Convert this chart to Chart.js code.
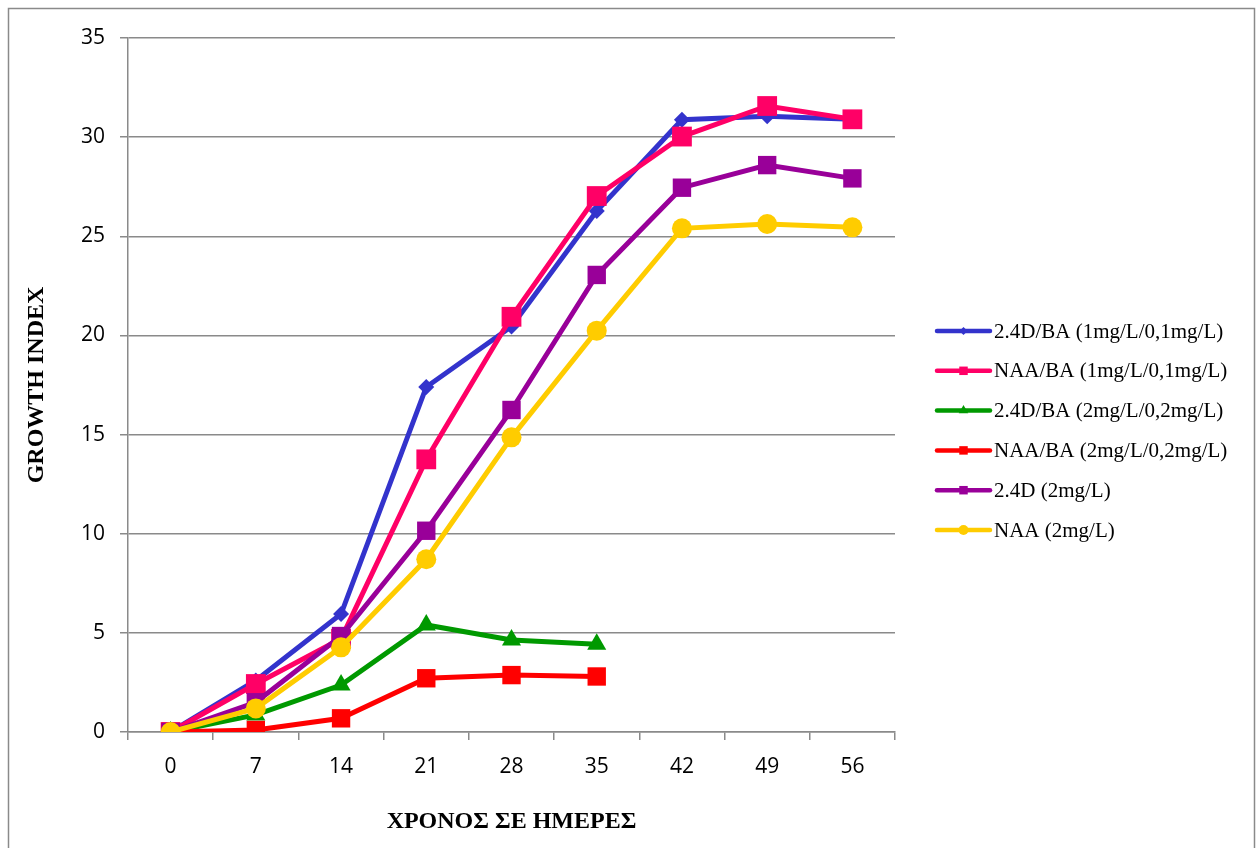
<!DOCTYPE html>
<html>
<head>
<meta charset="utf-8">
<script src="https://cdn.jsdelivr.net/npm/chart.js@4"></script>
<style>
  html, body { margin: 0; padding: 0; background: #fff; }
  #wrap { position: relative; width: 1258px; height: 848px; }
</style>
</head>
<body>
<div id="wrap"><canvas id="c" width="1258" height="848"></canvas></div>
<script>
// Days of culture
const days = ['0', '7', '14', '21', '28', '35', '42', '49', '56'];

// Growth index per treatment
const d24ba1 = [0, 2.6, 5.95, 17.4, 20.45, 26.27, 30.88, 31.05, 30.9];
const naaba1 = [0, 2.42, 4.7, 13.75, 20.94, 27.03, 30.03, 31.57, 30.9];
const d24ba2 = [0, 0.86, 2.37, 5.4, 4.64, 4.42, null, null, null];
const naaba2 = [0, 0.1, 0.69, 2.71, 2.87, 2.8, null, null, null];
const d24 = [0, 1.5, 4.84, 10.15, 16.24, 23.05, 27.45, 28.59, 27.92];
const naa = [0, 1.19, 4.27, 8.71, 14.86, 20.24, 25.4, 25.62, 25.45];

const seriesNames = [
  '2.4D/BA (1mg/L/0,1mg/L)',
  'NAA/BA (1mg/L/0,1mg/L)',
  '2.4D/BA (2mg/L/0,2mg/L)',
  'NAA/BA (2mg/L/0,2mg/L)',
  '2.4D (2mg/L)',
  'NAA (2mg/L)'
];

const yTicks = [0, 5, 10, 15, 20, 25, 30, 35];

const styles = [
  { color: '#3333CC', point: 'rectRot', radius: 8 },
  { color: '#FF0066', point: 'rect', radius: 14 },
  { color: '#009900', point: 'triangle', radius: 11 },
  { color: '#FF0000', point: 'rect', radius: 13 },
  { color: '#990099', point: 'rect', radius: 13 },
  { color: '#FFCC00', point: 'circle', radius: 10 }
];

const values = [d24ba1, naaba1, d24ba2, naaba2, d24, naa];

const datasets = values.map((v, i) => ({
  label: seriesNames[i],
  data: v,
  borderColor: styles[i].color,
  backgroundColor: styles[i].color,
  pointBackgroundColor: styles[i].color,
  pointBorderColor: styles[i].color,
  pointBorderWidth: 0,
  pointStyle: styles[i].point,
  pointRadius: styles[i].radius,
  borderWidth: 5,
  tension: 0,
  spanGaps: false,
  order: values.length - i
}));

const serif = '"Liberation Serif", "Times New Roman", serif';
const sans = '"Open Sans", sans-serif';

// Frame round the whole chart
const framePlugin = {
  id: 'frame',
  beforeDraw(chart) {
    const ctx = chart.ctx;
    ctx.save();
    ctx.fillStyle = '#fff';
    ctx.fillRect(0, 0, chart.width, chart.height);
    ctx.strokeStyle = '#8a8a8a';
    ctx.lineWidth = 1.5;
    ctx.strokeRect(8.5, 8.5, 1246, 850);
    ctx.restore();
  }
};

// Legend at the right: a line with the series marker in its middle
const sideLegend = {
  id: 'sideLegend',
  afterDraw(chart) {
    const ctx = chart.ctx;
    const x0 = 937, x1 = 990, y0 = 331, step = 39.8;
    ctx.save();
    chart.data.datasets.forEach((ds, i) => {
      const y = y0 + i * step;
      ctx.strokeStyle = ds.borderColor;
      ctx.lineWidth = 4.5;
      ctx.lineCap = 'round';
      ctx.beginPath();
      ctx.moveTo(x0, y);
      ctx.lineTo(x1, y);
      ctx.stroke();
      ctx.fillStyle = ds.pointBackgroundColor;
      ctx.strokeStyle = ds.pointBorderColor;
      Chart.helpers.drawPoint(ctx, { pointStyle: ds.pointStyle, radius: Math.min(ds.pointRadius * 0.5, 6), rotation: 0, borderWidth: 0 }, (x0 + x1) / 2, y);
      ctx.fillStyle = '#000';
      ctx.font = '21px ' + serif;
      ctx.textBaseline = 'middle';
      ctx.textAlign = 'left';
      ctx.fillText(ds.label, 994, y + 1);
    });
    ctx.restore();
  }
};

new Chart(document.getElementById('c'), {
  type: 'line',
  data: { labels: days, datasets },
  options: {
    responsive: false,
    animation: false,
    layout: { padding: { left: 8, right: 363, top: 38, bottom: 10 } },
    plugins: {
      legend: { display: false },
      tooltip: { enabled: false }
    },
    scales: {
      x: {
        offset: true,
        grid: {
          offset: true,
          drawOnChartArea: false,
          drawTicks: true,
          tickLength: 8,
          color: '#8a8a8a',
          lineWidth: 1.5
        },
        border: { color: '#8a8a8a', width: 1.5 },
        ticks: {
          color: '#000',
          padding: 14,
          font: { family: sans, size: 21 }
        },
        title: {
          display: true,
          text: 'ΧΡΟΝΟΣ ΣΕ ΗΜΕΡΕΣ',
          color: '#000',
          font: { family: serif, size: 24, weight: 'bold' },
          padding: { top: 0, bottom: 2 }
        },
        afterFit(scale) { scale.height = 106; }
      },
      y: {
        min: 0,
        max: 35,
        afterBuildTicks(scale) { scale.ticks = yTicks.map(v => ({ value: v })); },
        grid: {
          color: '#8a8a8a',
          lineWidth: 1.5,
          tickLength: 8
        },
        border: { color: '#8a8a8a', width: 1.5 },
        ticks: {
          color: '#000',
          padding: 15,
          font: { family: sans, size: 21 }
        },
        title: {
          display: true,
          text: 'GROWTH INDEX',
          color: '#000',
          font: { family: serif, size: 24, weight: 'bold' },
          padding: { top: 14, bottom: 0 }
        },
        afterFit(scale) { scale.width = 120; }
      }
    }
  },
  plugins: [framePlugin, sideLegend]
});
</script>
</body>
</html>
